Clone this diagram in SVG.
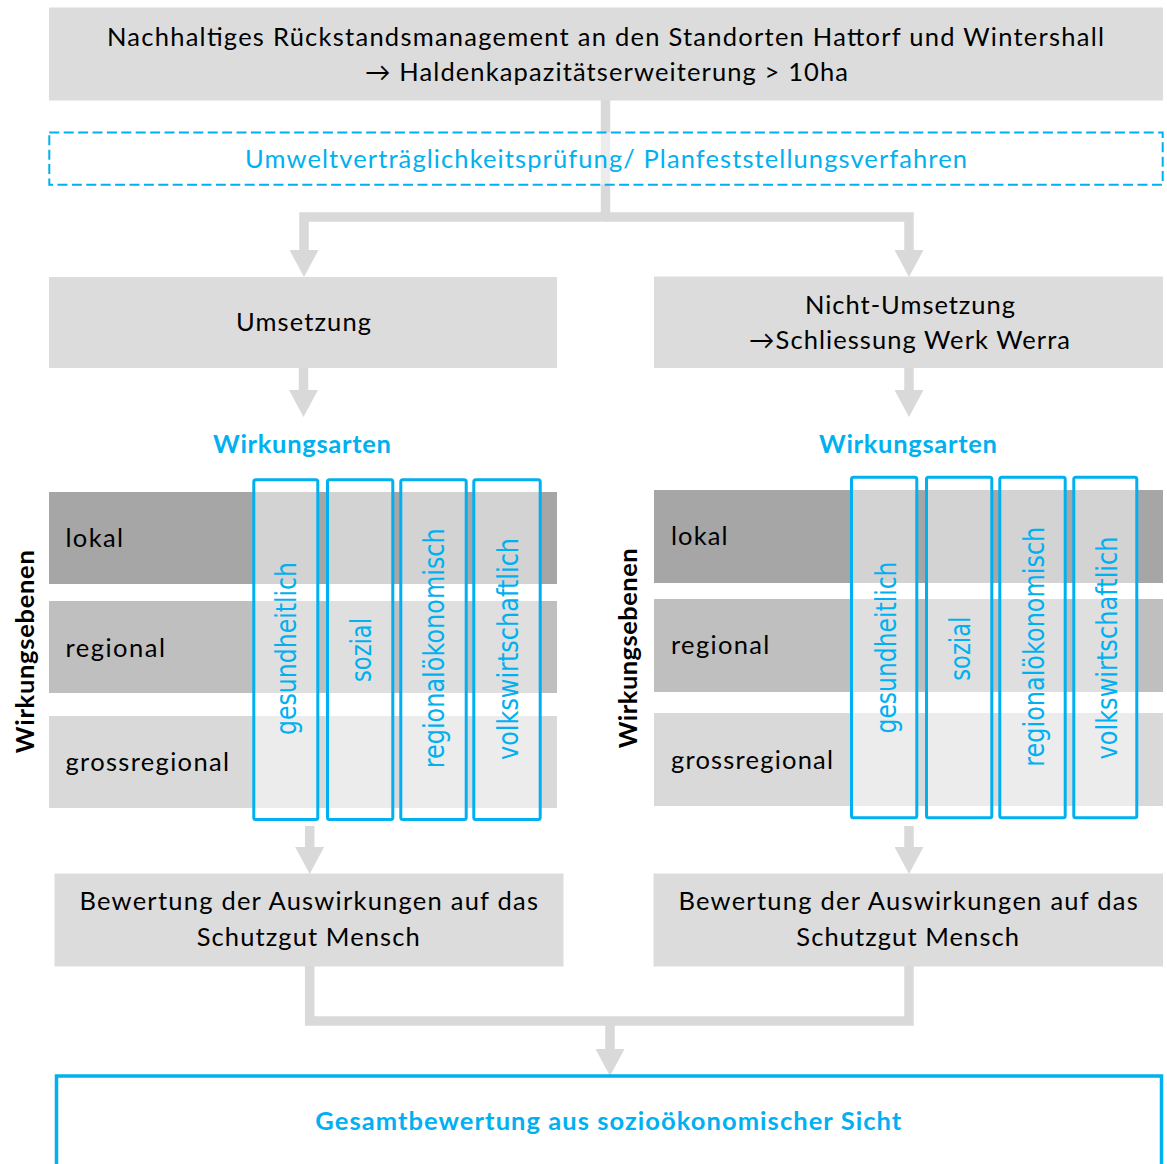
<svg xmlns="http://www.w3.org/2000/svg" width="1167" height="1164" viewBox="0 0 1167 1164">
<style>
.bg{fill:#ffffff}
.box{fill:#dcdcdc}
.t{font-family:Lato,"Liberation Sans",sans-serif;font-size:25.5px;fill:#000}
.blue{fill:#00b0f0}
.bold{font-weight:700}
.r1{fill:#a6a6a6}
.r2{fill:#bfbfbf}
.r3{fill:#d9d9d9}
.col{fill:#ffffff;fill-opacity:0.5;stroke:#00b0f0;stroke-width:3}
.ct{font-family:"DejaVu Sans",sans-serif;font-size:29px;fill:#00b0f0}
.conn{fill:none;stroke:#d9d9d9;stroke-width:9.5}
.dash{fill:#ffffff;fill-opacity:0.5;stroke:#00b0f0;stroke-width:2;stroke-dasharray:10 4.4}
.final{fill:#ffffff;stroke:#00b0f0;stroke-width:3.5}
</style>
<defs>
<marker id="ah" markerUnits="userSpaceOnUse" viewBox="0 0 27 29" markerWidth="27" markerHeight="29" refX="0" refY="14.5" orient="auto">
<path d="M0,0 L27,14.5 L0,29 z" fill="#d9d9d9"/>
</marker>
</defs>
<rect class="bg" x="0" y="0" width="1167" height="1164"/>

<g id="connectors">
<path class="conn" d="M605.5,100 V217 H304 V250" marker-end="url(#ah)"/>
<path class="conn" d="M605.5,217 H909 V250" marker-end="url(#ah)"/>
<path class="conn" d="M303.5,368 V390" marker-end="url(#ah)"/>
<path class="conn" d="M909,368 V390" marker-end="url(#ah)"/>
<path class="conn" d="M309.7,826 V847" marker-end="url(#ah)"/>
<path class="conn" d="M909,826 V847" marker-end="url(#ah)"/>
<path class="conn" d="M309.7,966 V1021 H909 V966"/>
<path class="conn" d="M610,1021 V1049" marker-end="url(#ah)"/>
</g>

<g id="top">
<rect class="box" x="49" y="7.5" width="1114" height="93"/>
<text class="t" x="107" y="45.5" textLength="997" lengthAdjust="spacing">Nachhaltiges Rückstandsmanagement an den Standorten Hattorf und Wintershall</text>
<text class="t" x="365" y="80.5" textLength="483" lengthAdjust="spacing">→ Haldenkapazitätserweiterung &gt; 10ha</text>
</g>

<g id="uvp">
<rect class="dash" x="49.3" y="132.5" width="1113.4" height="52.2"/>
<text class="t blue" x="245" y="168.3" textLength="722" lengthAdjust="spacing">Umweltverträglichkeitsprüfung/ Planfeststellungsverfahren</text>
</g>

<g id="umsetzung">
<rect class="box" x="49" y="277" width="508" height="91"/>
<text class="t" x="236" y="331" textLength="135" lengthAdjust="spacing">Umsetzung</text>
</g>

<g id="nicht-umsetzung">
<rect class="box" x="654" y="276.5" width="509" height="91.5"/>
<text class="t" x="805" y="313.5" textLength="210" lengthAdjust="spacing">Nicht-Umsetzung</text>
<text class="t" x="749" y="348.5" textLength="321" lengthAdjust="spacing">→Schliessung Werk Werra</text>
</g>

<g id="matrix-left">
<text class="t blue bold" x="213" y="452.7" font-size="26.5" textLength="178" lengthAdjust="spacing">Wirkungsarten</text>
<rect class="r1" x="49" y="492" width="508" height="92"/>
<rect class="r2" x="49" y="601" width="508" height="92"/>
<rect class="r3" x="49" y="716" width="508" height="92"/>
<text class="t" x="65.5" y="547" textLength="57.5" lengthAdjust="spacing">lokal</text>
<text class="t" x="65.5" y="656.5" textLength="99.5" lengthAdjust="spacing">regional</text>
<text class="t" x="65.5" y="771" textLength="163.5" lengthAdjust="spacing">grossregional</text>
<text class="t bold" transform="translate(34,651.7) rotate(-90)" x="0" y="0" text-anchor="middle" font-size="29" textLength="203" lengthAdjust="spacing">Wirkungsebenen</text>
<rect class="col" x="253.8" y="479.8" width="64" height="339.7" rx="2"/>
<rect class="col" x="327.5" y="479.8" width="65.3" height="339.7" rx="2"/>
<rect class="col" x="400.8" y="479.8" width="65.4" height="339.7" rx="2"/>
<rect class="col" x="473.8" y="479.8" width="66.4" height="339.7" rx="2"/>
<text class="ct" transform="translate(295.5,648.5) rotate(-90)" text-anchor="middle" textLength="173" lengthAdjust="spacingAndGlyphs">gesundheitlich</text>
<text class="ct" transform="translate(371,650) rotate(-90)" text-anchor="middle" textLength="64" lengthAdjust="spacingAndGlyphs">sozial</text>
<text class="ct" transform="translate(443.8,648.3) rotate(-90)" text-anchor="middle" textLength="240" lengthAdjust="spacingAndGlyphs">regionalökonomisch</text>
<text class="ct" transform="translate(517.5,649) rotate(-90)" text-anchor="middle" textLength="222" lengthAdjust="spacingAndGlyphs">volkswirtschaftlich</text>
</g>

<g id="matrix-right">
<text class="t blue bold" x="819" y="452.7" font-size="26.5" textLength="178" lengthAdjust="spacing">Wirkungsarten</text>
<rect class="r1" x="654" y="490" width="509" height="93"/>
<rect class="r2" x="654" y="599" width="509" height="93"/>
<rect class="r3" x="654" y="713" width="509" height="93"/>
<text class="t" x="671" y="544.5" textLength="56.5" lengthAdjust="spacing">lokal</text>
<text class="t" x="671" y="654" textLength="98.3" lengthAdjust="spacing">regional</text>
<text class="t" x="671" y="769" textLength="162" lengthAdjust="spacing">grossregional</text>
<text class="t bold" transform="translate(637,648.3) rotate(-90)" x="0" y="0" text-anchor="middle" font-size="29" textLength="200" lengthAdjust="spacing">Wirkungsebenen</text>
<rect class="col" x="851.5" y="477.2" width="65.3" height="340.6" rx="2"/>
<rect class="col" x="926.5" y="477.2" width="65.3" height="340.6" rx="2"/>
<rect class="col" x="999.8" y="477.2" width="65.4" height="340.6" rx="2"/>
<rect class="col" x="1073.8" y="477.2" width="63" height="340.6" rx="2"/>
<text class="ct" transform="translate(895.5,647.5) rotate(-90)" text-anchor="middle" textLength="172" lengthAdjust="spacingAndGlyphs">gesundheitlich</text>
<text class="ct" transform="translate(970,648.7) rotate(-90)" text-anchor="middle" textLength="64" lengthAdjust="spacingAndGlyphs">sozial</text>
<text class="ct" transform="translate(1043.5,646.7) rotate(-90)" text-anchor="middle" textLength="240" lengthAdjust="spacingAndGlyphs">regionalökonomisch</text>
<text class="ct" transform="translate(1116.5,648) rotate(-90)" text-anchor="middle" textLength="223" lengthAdjust="spacingAndGlyphs">volkswirtschaftlich</text>
</g>

<g id="bewertung-left">
<rect class="box" x="54.5" y="873.5" width="509" height="93"/>
<text class="t" x="79.5" y="910" textLength="458.5" lengthAdjust="spacing">Bewertung der Auswirkungen auf das</text>
<text class="t" x="196.7" y="946" textLength="223" lengthAdjust="spacing">Schutzgut Mensch</text>
</g>

<g id="bewertung-right">
<rect class="box" x="653.5" y="873.5" width="509.5" height="93"/>
<text class="t" x="678.4" y="910" textLength="459.4" lengthAdjust="spacing">Bewertung der Auswirkungen auf das</text>
<text class="t" x="796.3" y="946" textLength="222.7" lengthAdjust="spacing">Schutzgut Mensch</text>
</g>

<g id="gesamtbewertung">
<rect class="final" x="56.5" y="1076" width="1105" height="120"/>
<text class="t blue bold" x="315.3" y="1130" textLength="586" lengthAdjust="spacing">Gesamtbewertung aus sozioökonomischer Sicht</text>
</g>
</svg>
